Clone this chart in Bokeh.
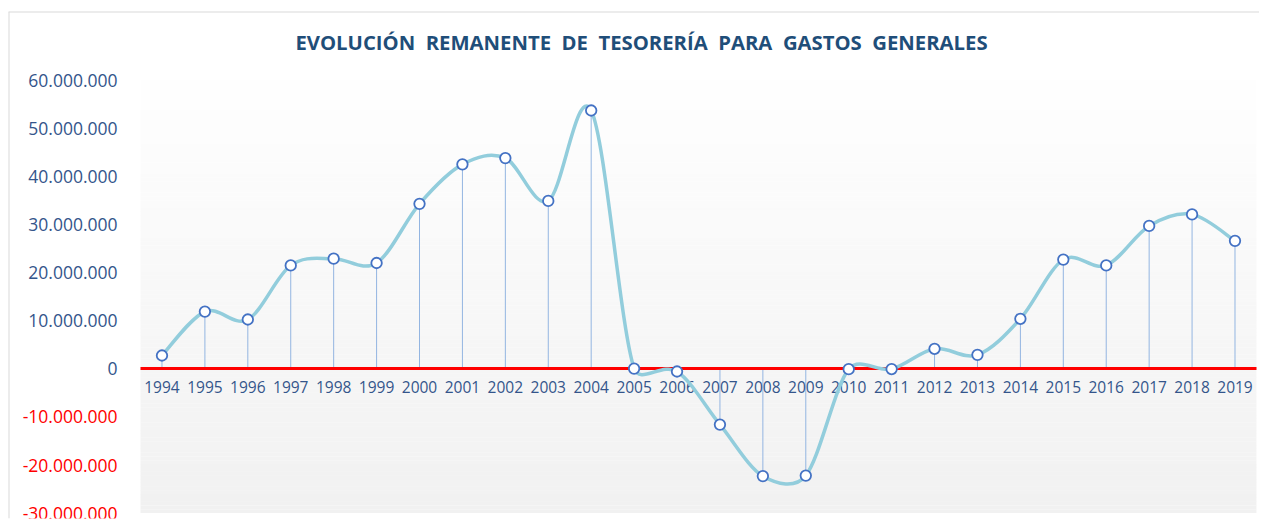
import numpy as np
from bokeh.plotting import figure
from bokeh.models import LinearAxis, FixedTicker, Range1d, Label, Span
from bokeh.embed import file_html
from bokeh.resources import INLINE

# ---------------- data ----------------
years = list(range(1994, 2020))
year_labels = [str(y) for y in years]
remanente = [
    2.77e6, 11.9e6, 10.25e6, 21.5e6, 22.9e6, 22.0e6, 34.3e6, 42.5e6, 43.8e6,
    34.9e6, 53.7e6, 0.05e6, -0.56e6, -11.6e6, -22.3e6, -22.2e6, -0.08e6,
    -0.05e6, 4.16e6, 2.9e6, 10.4e6, 22.7e6, 21.5e6, 29.7e6, 32.1e6, 26.6e6,
]
pos_ticks = [0, 10e6, 20e6, 30e6, 40e6, 50e6, 60e6]
pos_labels = ["0", "10.000.000", "20.000.000", "30.000.000", "40.000.000",
              "50.000.000", "60.000.000"]
neg_ticks = [-30e6, -20e6, -10e6]
neg_labels = ["-30.000.000", "-20.000.000", "-10.000.000"]
title_words = ["EVOLUCIÓN", "REMANENTE", "DE", "TESORERÍA", "PARA", "GASTOS",
               "GENERALES"]

# ---------------- styles ----------------
FONT = "Open Sans"
NAVY = "#34558B"
TITLE_C = "#1F4E79"
RED = "#FF0000"
CURVE_C = "#92CDDC"
MARK_C = "#4472C4"
DROP_C = "#93B5E1"

W, H = 1259, 524
B_LEFT, B_TOP, B_BOTTOM = 8, 11, 6
X_START, X_END = 1990.424, 2019.571
Y_START, Y_END = -31.12e6, 74.28e6

x0_area = years[0] - 0.5
x1_area = years[-1] + 0.5

p = figure(
    width=W, height=H, output_backend="svg", toolbar_location=None,
    x_range=Range1d(X_START, X_END), y_range=Range1d(Y_START, Y_END),
    x_axis_type=None, y_axis_type=None,
    min_border_left=B_LEFT, min_border_right=0, min_border_bottom=B_BOTTOM,
    min_border_top=B_TOP,
)
p.outline_line_color = None
p.background_fill_color = "white"
p.border_fill_color = "white"

# chart border (left / top)
p.add_layout(Span(location=X_START, dimension="height",
                  line_color="#D9D9D9", line_width=2))
p.add_layout(Span(location=Y_END, dimension="width",
                  line_color="#D9D9D9", line_width=2))

# plot-area gradient (white at top -> light grey at bottom)
nb = 120
g_bottom = neg_ticks[0]
g_top = 64e6
edges = np.linspace(g_bottom, g_top, nb + 1)
shades = np.linspace(241, 255, nb)
cols = []
for s in shades:
    v = int(round(s))
    cols.append("#%02x%02x%02x" % (v, v, v))
p.quad(left=[x0_area] * nb, right=[x1_area] * nb, bottom=edges[:-1],
       top=edges[1:] + (edges[1] - edges[0]) * 0.05, fill_color=cols,
       line_color=None)

# drop lines
p.segment(x0=years, y0=[0] * len(years), x1=years, y1=remanente,
          line_color=DROP_C, line_width=1)

# smoothed curve: bezier through the points (tangent = neighbour diff / 6,
# arm length limited by 0.4 * adjacent segment length, in pixel space)
sx = (W - B_LEFT) / (X_END - X_START)
sy = (H - B_TOP - B_BOTTOM) / (Y_END - Y_START)
px = np.array(years, dtype=float) * sx
py = np.array(remanente, dtype=float) * sy
n = len(px)
arm_out, arm_in = [], []
for i in range(n):
    a, b = max(i - 1, 0), min(i + 1, n - 1)
    t = np.array([px[b] - px[a], py[b] - py[a]]) / 6.0
    tl = np.hypot(*t)
    d_prev = np.hypot(px[i] - px[a], py[i] - py[a])
    d_next = np.hypot(px[b] - px[i], py[b] - py[i])
    to, ti = t.copy(), t.copy()
    if tl > 0:
        if tl > 0.4 * d_next:
            to = t * (0.4 * d_next / tl)
        if tl > 0.4 * d_prev:
            ti = t * (0.4 * d_prev / tl)
    arm_out.append(to)
    arm_in.append(ti)
bx0, by0, bx1, by1, c0x, c0y, c1x, c1y = [], [], [], [], [], [], [], []
for i in range(n - 1):
    bx0.append(px[i] / sx); by0.append(py[i] / sy)
    bx1.append(px[i + 1] / sx); by1.append(py[i + 1] / sy)
    c0x.append((px[i] + arm_out[i][0]) / sx)
    c0y.append((py[i] + arm_out[i][1]) / sy)
    c1x.append((px[i + 1] - arm_in[i + 1][0]) / sx)
    c1y.append((py[i + 1] - arm_in[i + 1][1]) / sy)
p.bezier(x0=bx0, y0=by0, x1=bx1, y1=by1, cx0=c0x, cy0=c0y, cx1=c1x, cy1=c1y,
         line_color=CURVE_C, line_width=3.5, line_cap="round",
         level="annotation")

# markers
p.scatter(x=years, y=remanente, size=10.5, marker="circle", fill_color="white",
          line_color=MARK_C, line_width=1.8, level="overlay")

# x axis at y = 0
xax = LinearAxis(fixed_location=0, ticker=FixedTicker(ticks=years),
                 bounds=(x0_area, x1_area))
xax.axis_line_color = RED
xax.axis_line_width = 3
xax.major_tick_line_color = None
xax.minor_tick_line_color = None
xax.major_tick_in = 0
xax.major_tick_out = 0
xax.major_label_standoff = 12
xax.major_label_text_font = FONT
xax.major_label_text_font_size = "15.5px"
xax.major_label_text_color = NAVY
xax.major_label_overrides = {y: l for y, l in zip(years, year_labels)}
p.add_layout(xax, "below")

# y axes (positive navy, negative red)
for ticks, labels, color in ((pos_ticks, pos_labels, NAVY),
                             (neg_ticks, neg_labels, RED)):
    yax = LinearAxis(fixed_location=x0_area, ticker=FixedTicker(ticks=ticks))
    yax.axis_line_color = None
    yax.major_tick_line_color = None
    yax.minor_tick_line_color = None
    yax.major_tick_in = 0
    yax.major_tick_out = 0
    yax.major_label_standoff = 23
    yax.major_label_text_font = FONT
    yax.major_label_text_font_size = "17.5px"
    yax.major_label_text_color = color
    yax.major_label_overrides = {t: l for t, l in zip(ticks, labels)}
    p.add_layout(yax, "left")

# title (wider word gaps as in the reference)
title_text = " \u00a0".join(title_words)
p.add_layout(Label(x=633, y=477, x_units="screen", y_units="screen",
                   text=title_text, text_align="center",
                   text_baseline="middle", text_font=FONT,
                   text_font_style="bold", text_font_size="20.3px",
                   text_color=TITLE_C))

open("out.html", "w").write(file_html(p, INLINE))
